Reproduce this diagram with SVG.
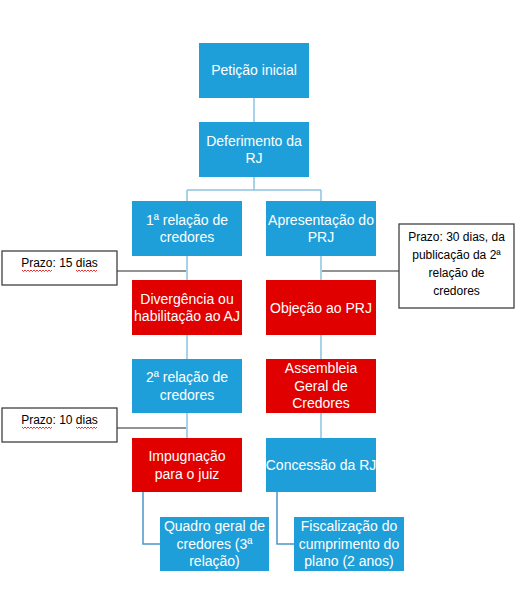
<svg xmlns="http://www.w3.org/2000/svg" width="521" height="600" viewBox="0 0 521 600">
<style>
.b{fill:#1E9FD9}
.r{fill:#E00000}
.t{font-family:"Liberation Sans",Arial,sans-serif;font-size:14px;fill:#fff;text-anchor:middle}
.n{fill:#fff;stroke:#404040;stroke-width:1.3}
.nt{font-family:"Liberation Sans",Arial,sans-serif;font-size:12px;fill:#000;text-anchor:middle}
.c{fill:none;stroke:#8CC4E0;stroke-width:1.5}
.c2{fill:none;stroke:#4A98C8;stroke-width:1.5}
.g{fill:none;stroke:#707070;stroke-width:1.3}
.w{fill:none;stroke:#E00000;stroke-width:0.8}
</style>
<rect width="521" height="600" fill="#fff"/>
<g id="connectors">
<path class="c" d="M254 98V122"/>
<path class="c" d="M254 177V190M187 190H321M187 190V201M321 190V201"/>
<path class="c" d="M187 256V280M321 256V280M187 335V359M321 335V359M187 413V438M321 413V438"/>
<path class="c2" d="M143 492V544H160M277 492V544H294"/>
<path class="g" d="M117 271H186M322 271H399M117 428H186"/>
</g>
<g id="n1"><rect class="b" x="199" y="43" width="110" height="55"/><text class="t" x="254" y="75">Petição inicial</text></g>
<g id="n2"><rect class="b" x="199" y="122" width="110" height="55"/><text class="t" x="254" y="145.5">Deferimento da</text><text class="t" x="254" y="163">RJ</text></g>
<g id="n3"><rect class="b" x="132" y="201" width="110" height="55"/><text class="t" x="187" y="224.5">1ª relação de</text><text class="t" x="187" y="242">credores</text></g>
<g id="n4"><rect class="b" x="266" y="201" width="110" height="55"/><text class="t" x="321" y="224.5">Apresentação do</text><text class="t" x="321" y="242">PRJ</text></g>
<g id="n5"><rect class="r" x="132" y="280" width="110" height="55"/><text class="t" x="187" y="303.5">Divergência ou</text><text class="t" x="187" y="321">habilitação ao AJ</text></g>
<g id="n6"><rect class="r" x="266" y="280" width="110" height="55"/><text class="t" x="321" y="312.5">Objeção ao PRJ</text></g>
<g id="n7"><rect class="b" x="132" y="359" width="110" height="54"/><text class="t" x="187" y="382">2ª relação de</text><text class="t" x="187" y="399.5">credores</text></g>
<g id="n8"><rect class="r" x="266" y="359" width="110" height="54"/><text class="t" x="321" y="373">Assembleia</text><text class="t" x="321" y="390.5">Geral de</text><text class="t" x="321" y="408">Credores</text></g>
<g id="n9"><rect class="r" x="132" y="438" width="110" height="54"/><text class="t" x="187" y="461">Impugnação</text><text class="t" x="187" y="478.5">para o juiz</text></g>
<g id="n10"><rect class="b" x="266" y="438" width="110" height="54"/><text class="t" x="321" y="469.5">Concessão da RJ</text></g>
<g id="n11"><rect class="b" x="160" y="517" width="109" height="54"/><text class="t" x="214.5" y="531">Quadro geral de</text><text class="t" x="214.5" y="548.5">credores (3ª</text><text class="t" x="214.5" y="566">relação)</text></g>
<g id="n12"><rect class="b" x="294" y="517" width="110" height="54"/><text class="t" x="349" y="531">Fiscalização do</text><text class="t" x="349" y="548.5">cumprimento do</text><text class="t" x="349" y="566">plano (2 anos)</text></g>
<g id="note1"><rect class="n" x="2" y="251" width="115" height="34"/><text class="nt" x="59.5" y="267">Prazo: 15 dias</text>
<path class="w" d="M22 270l1.5 1.5 1.5-1.5 1.5 1.5 1.5-1.5 1.5 1.5 1.5-1.5 1.5 1.5 1.5-1.5 1.5 1.5 1.5-1.5 1.5 1.5 1.5-1.5 1.5 1.5 1.5-1.5 1.5 1.5 1.5-1.5 1.5 1.5 1.5-1.5 1.5 1.5 1.5-1.5M76 270l1.5 1.5 1.5-1.5 1.5 1.5 1.5-1.5 1.5 1.5 1.5-1.5 1.5 1.5 1.5-1.5 1.5 1.5 1.5-1.5 1.5 1.5 1.5-1.5 1.5 1.5 1.5-1.5"/></g>
<g id="note2"><rect class="n" x="399" y="224" width="115" height="84"/><text class="nt" x="456.5" y="241">Prazo: 30 dias, da</text><text class="nt" x="456.5" y="259">publicação da 2ª</text><text class="nt" x="456.5" y="277">relação de</text><text class="nt" x="456.5" y="295">credores</text></g>
<g id="note3"><rect class="n" x="2" y="408" width="115" height="34"/><text class="nt" x="59.5" y="424">Prazo: 10 dias</text>
<path class="w" d="M22 427l1.5 1.5 1.5-1.5 1.5 1.5 1.5-1.5 1.5 1.5 1.5-1.5 1.5 1.5 1.5-1.5 1.5 1.5 1.5-1.5 1.5 1.5 1.5-1.5 1.5 1.5 1.5-1.5 1.5 1.5 1.5-1.5 1.5 1.5 1.5-1.5 1.5 1.5 1.5-1.5M76 427l1.5 1.5 1.5-1.5 1.5 1.5 1.5-1.5 1.5 1.5 1.5-1.5 1.5 1.5 1.5-1.5 1.5 1.5 1.5-1.5 1.5 1.5 1.5-1.5 1.5 1.5 1.5-1.5"/></g>
</svg>
